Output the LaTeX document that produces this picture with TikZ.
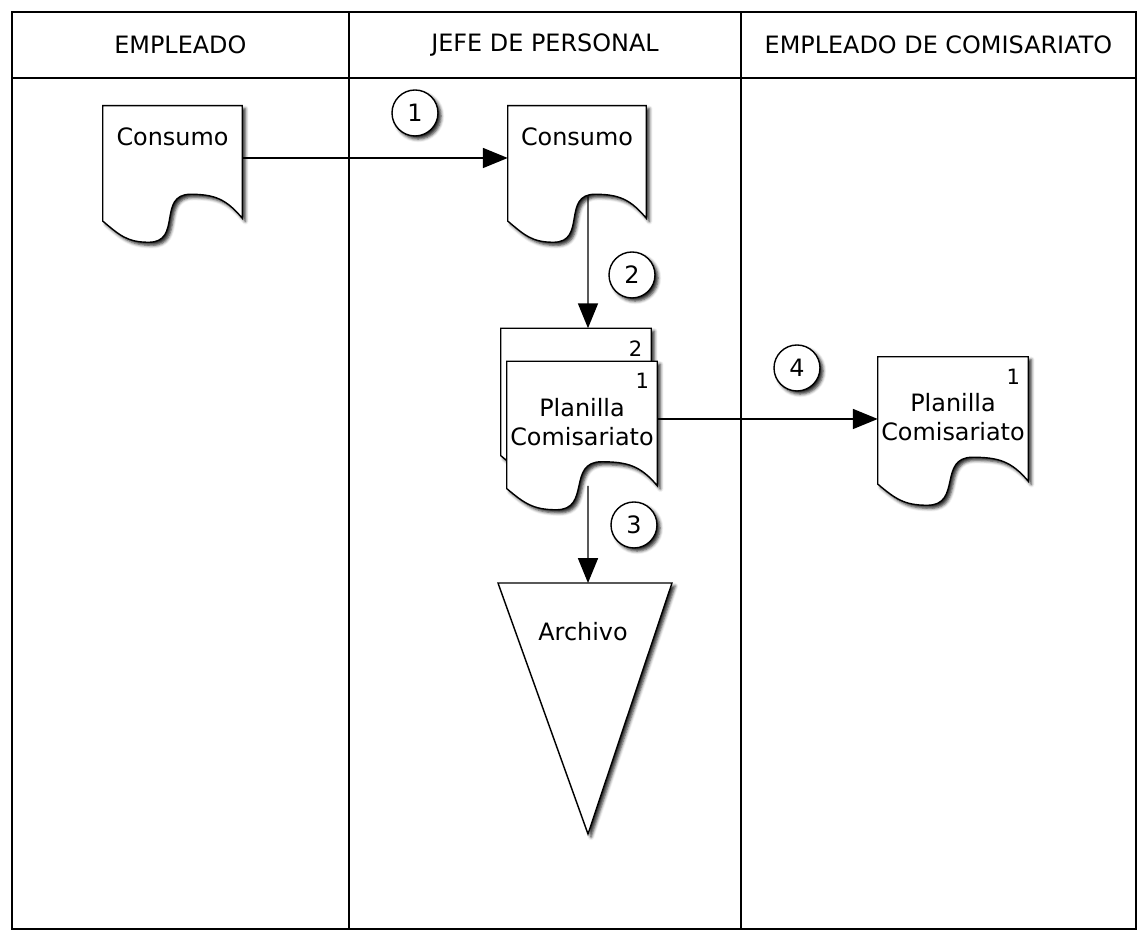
\documentclass[tikz,border=0pt]{standalone}
\usepackage{fontspec}
\setmainfont{DejaVu Sans}
\usetikzlibrary{positioning}
\usetikzlibrary{calc}
\usetikzlibrary{arrows.meta}
\usetikzlibrary{shadows.blur}

\tikzset{
  sombra/.style={blur shadow={shadow xshift=2.2pt, shadow yshift=-2.2pt, shadow blur radius=2.2pt, shadow opacity=85}},
  borde/.style={draw=black, line width=1pt, fill=white, sombra},
  hoja/.style={minimum width=3.75cm, minimum height=3.1cm, inner sep=0pt},
  texto/.style={font=\fontsize{17}{20.4}\selectfont, align=center, inner sep=0pt},
  esquina/.style={font=\fontsize{15}{18}\selectfont, inner sep=0pt},
  paso/.style={circle, draw, line width=1pt, fill=white, minimum size=1.15cm, inner sep=0pt, font=\fontsize{17}{20.4}\selectfont, sombra},
  flecha/.style={-{Triangle[length=0.62cm,width=0.5cm,fill=black]}, line width=1pt}
}

% document outline round an empty node
\newcommand{\contorno}[1]{%
  \draw[borde] (#1.north west) -- (#1.north east) -- (#1.south east)
    to[out=130,in=0,looseness=1.1] ($(#1.south west)!0.63!(#1.south east)+(0,0.6)$)
    to[out=180,in=0,looseness=1.35] ($(#1.south west)!0.33!(#1.south east)+(0,-0.6)$)
    to[out=180,in=-40,looseness=1.1] ($(#1.south west)+(0,-0.07)$) -- cycle;}

\begin{document}
\begin{tikzpicture}
\useasboundingbox (0,0) rectangle (28.45,23.275);

% lanes
\draw[line width=2pt] (0.3,0.05) rectangle (28.4,22.975);
\draw[line width=1.3pt] (0.3,21.325) -- (28.4,21.325);
\draw[line width=0.9pt] (8.725,0.05) -- (8.725,22.975);
\draw[line width=0.9pt] (18.525,0.05) -- (18.525,22.975);

\node[texto] (carril1) at (4.51,22.15) {EMPLEADO};
\node[texto] (carril2) at (13.625,22.15) {JEFE DE PERSONAL};
\node[texto] (carril3) at (23.46,22.15) {EMPLEADO DE COMISARIATO};

% Consumo sheets
\node[hoja, minimum width=3.475cm, minimum height=2.8cm] (consumo1) at (4.3125,19.225) {};
\contorno{consumo1}
\node[texto, below=0.55cm of consumo1.north] (tconsumo1) {Consumo};

\node[hoja, minimum width=3.45cm, minimum height=2.8cm] (consumo2) at (14.425,19.225) {};
\contorno{consumo2}
\node[texto, below=0.55cm of consumo2.north] (tconsumo2) {Consumo};

% Planilla, two copies
\node[hoja] (planilla2) at (14.4,13.5125) {};
\contorno{planilla2}
\node[esquina, below left=0.3cm and 0.22cm of planilla2.north east] (nplanilla2) {2};

\node[hoja] (planilla1) at (14.55,12.6875) {};
\contorno{planilla1}
\node[esquina, below left=0.3cm and 0.2cm of planilla1.north east] (nplanilla1) {1};
\node[texto, below=0.92cm of planilla1.north] (tplanilla1) {Planilla\\Comisariato};

\node[hoja] (planilla3) at (23.825,12.8) {};
\contorno{planilla3}
\node[esquina, below left=0.3cm and 0.2cm of planilla3.north east] (nplanilla3) {1};
\node[texto, below=0.92cm of planilla3.north] (tplanilla3) {Planilla\\Comisariato};

% Archivo
\coordinate (archivo) at (14.7,8.7);
\draw[borde] (12.45,8.7) -- (16.8,8.7) -- (14.7,2.425) -- cycle;
\node[texto] (tarchivo) at (14.575,7.475) {Archivo};

% flow
\draw[flecha] ([yshift=1mm]consumo1.east) -- ([yshift=1mm]consumo2.west);
\draw[flecha] ([xshift=2.75mm,yshift=5.5mm]consumo2.south) -- ([xshift=3mm]planilla2.north);
\draw[flecha] ([xshift=1.5mm]planilla1.south) -- (archivo);
\draw[flecha] (planilla1.east |- planilla3.west) -- (planilla3.west);

% step numbers
\node[paso] (p1) at (10.375,20.45) {1};
\node[paso] (p2) at (15.8,16.4) {2};
\node[paso] (p3) at (15.85,10.15) {3};
\node[paso] (p4) at (19.925,14.075) {4};
\end{tikzpicture}
\end{document}
